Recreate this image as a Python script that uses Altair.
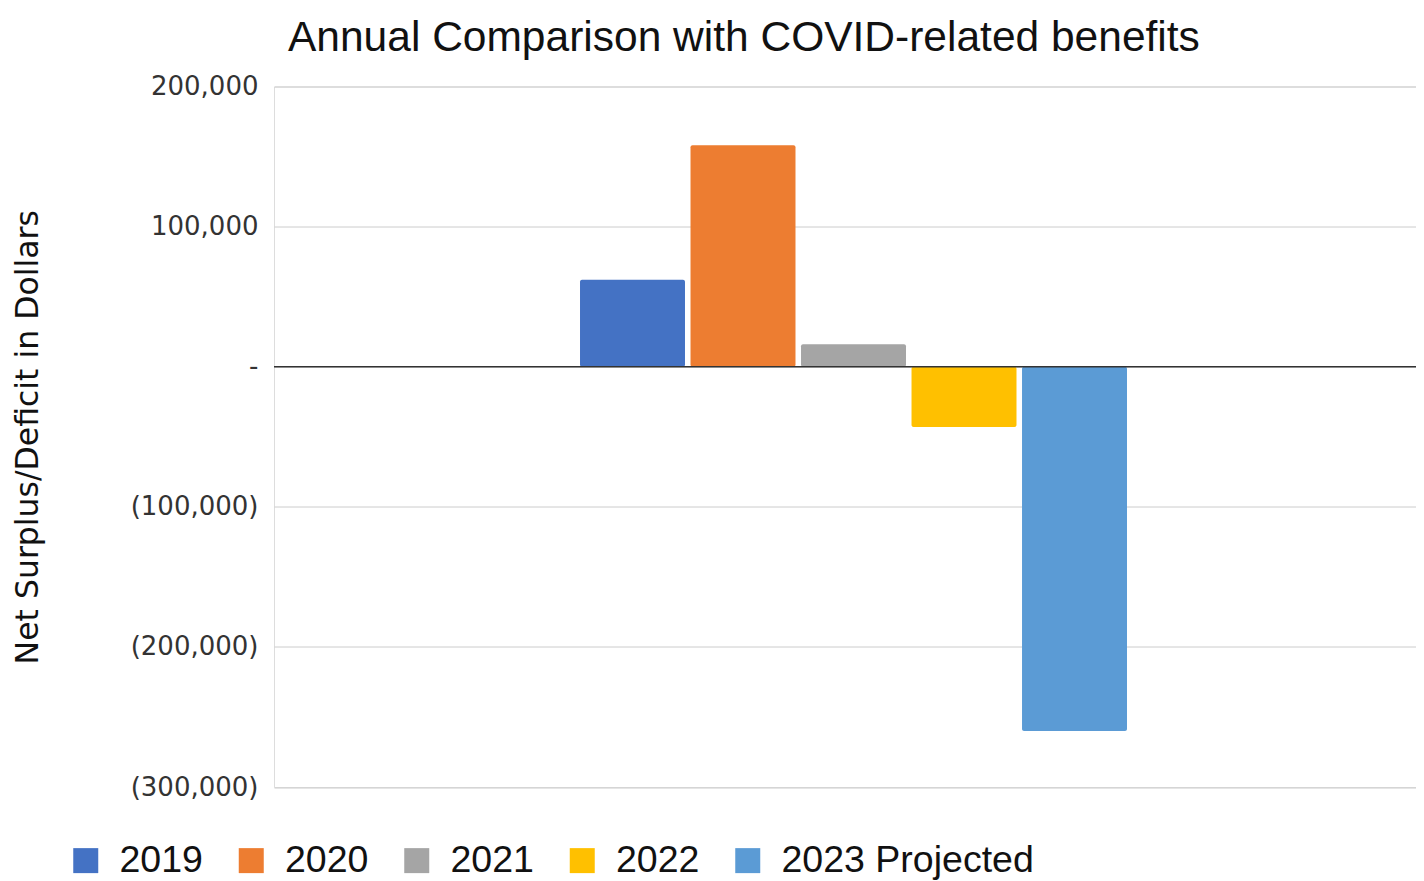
import altair as alt
import pandas as pd

series = ["2019", "2020", "2021", "2022", "2023 Projected"]
values = [62000, 158000, 16000, -43000, -260000]
colors = ["#4472C4", "#ED7D31", "#A5A5A5", "#FFC000", "#5B9BD5"]
y_ticks = [-300000, -200000, -100000, 0, 100000, 200000]
category = "Annual"

df = pd.DataFrame({"group": [category] * len(series), "series": series, "value": values})

label_expr = (
    "datum.value == 0 ? '-' : (datum.value < 0 ? '(' + format(-datum.value, ',') + ')' "
    ": format(datum.value, ','))"
)

bars = alt.Chart(df).mark_bar(cornerRadius=2).encode(
    x=alt.X("group:N", axis=None,
            scale=alt.Scale(paddingInner=0, paddingOuter=0.5439, align=0.5143)),
    xOffset=alt.XOffset("series:N", sort=series,
                        scale=alt.Scale(paddingInner=0.05, paddingOuter=0)),
    y=alt.Y("value:Q",
            scale=alt.Scale(domain=[-300000, 200000], nice=False),
            axis=alt.Axis(values=y_ticks, labelExpr=label_expr,
                          title="Net Surplus/Deficit in Dollars",
                          titleAngle=-90, titleX=-230, titleY=350.25,
                          titleAlign="center", titleBaseline="bottom",
                          titleFont="DejaVu Sans", titleFontSize=31.5,
                          titleFontWeight="normal", titleColor="#111",
                          labelFont="DejaVu Sans", labelFontSize=26,
                          labelColor="#333", labelPadding=16,
                          ticks=False, domain=False,
                          gridColor="#cccccc", gridWidth=1)),
    y2=alt.datum(0),
    color=alt.Color("series:N", sort=series,
                    scale=alt.Scale(domain=series, range=colors),
                    legend=alt.Legend(title=None, orient="none", direction="horizontal",
                                      columns=5, legendX=-207, legendY=755,
                                      symbolType="square", symbolSize=625,
                                      symbolStrokeWidth=0, labelOffset=15,
                                      columnPadding=29.5,
                                      labelFont="Liberation Sans", labelFontSize=37.5,
                                      labelFontWeight="normal", labelColor="#111",
                                      labelLimit=400)),
)

zero_line = alt.Chart(pd.DataFrame({"z": [0]})).mark_rule(
    color="#333333", strokeWidth=1.5
).encode(y="z:Q")

chart = alt.layer(bars, zero_line).properties(
    width=1142,
    height=700.5,
    padding={"left": 266, "top": 78.5, "right": 0, "bottom": 94},
    autosize=alt.AutoSizeParams(type="none"),
    title=alt.TitleParams("Annual Comparison with COVID-related benefits",
                          font="Liberation Sans", fontSize=42.5, fontWeight="normal",
                          color="#111", anchor="start", frame="group", dx=14, offset=14),
).configure_view(stroke=None).configure(background="white")

chart.save("out.html", embed_options={"renderer": "svg", "actions": False})
